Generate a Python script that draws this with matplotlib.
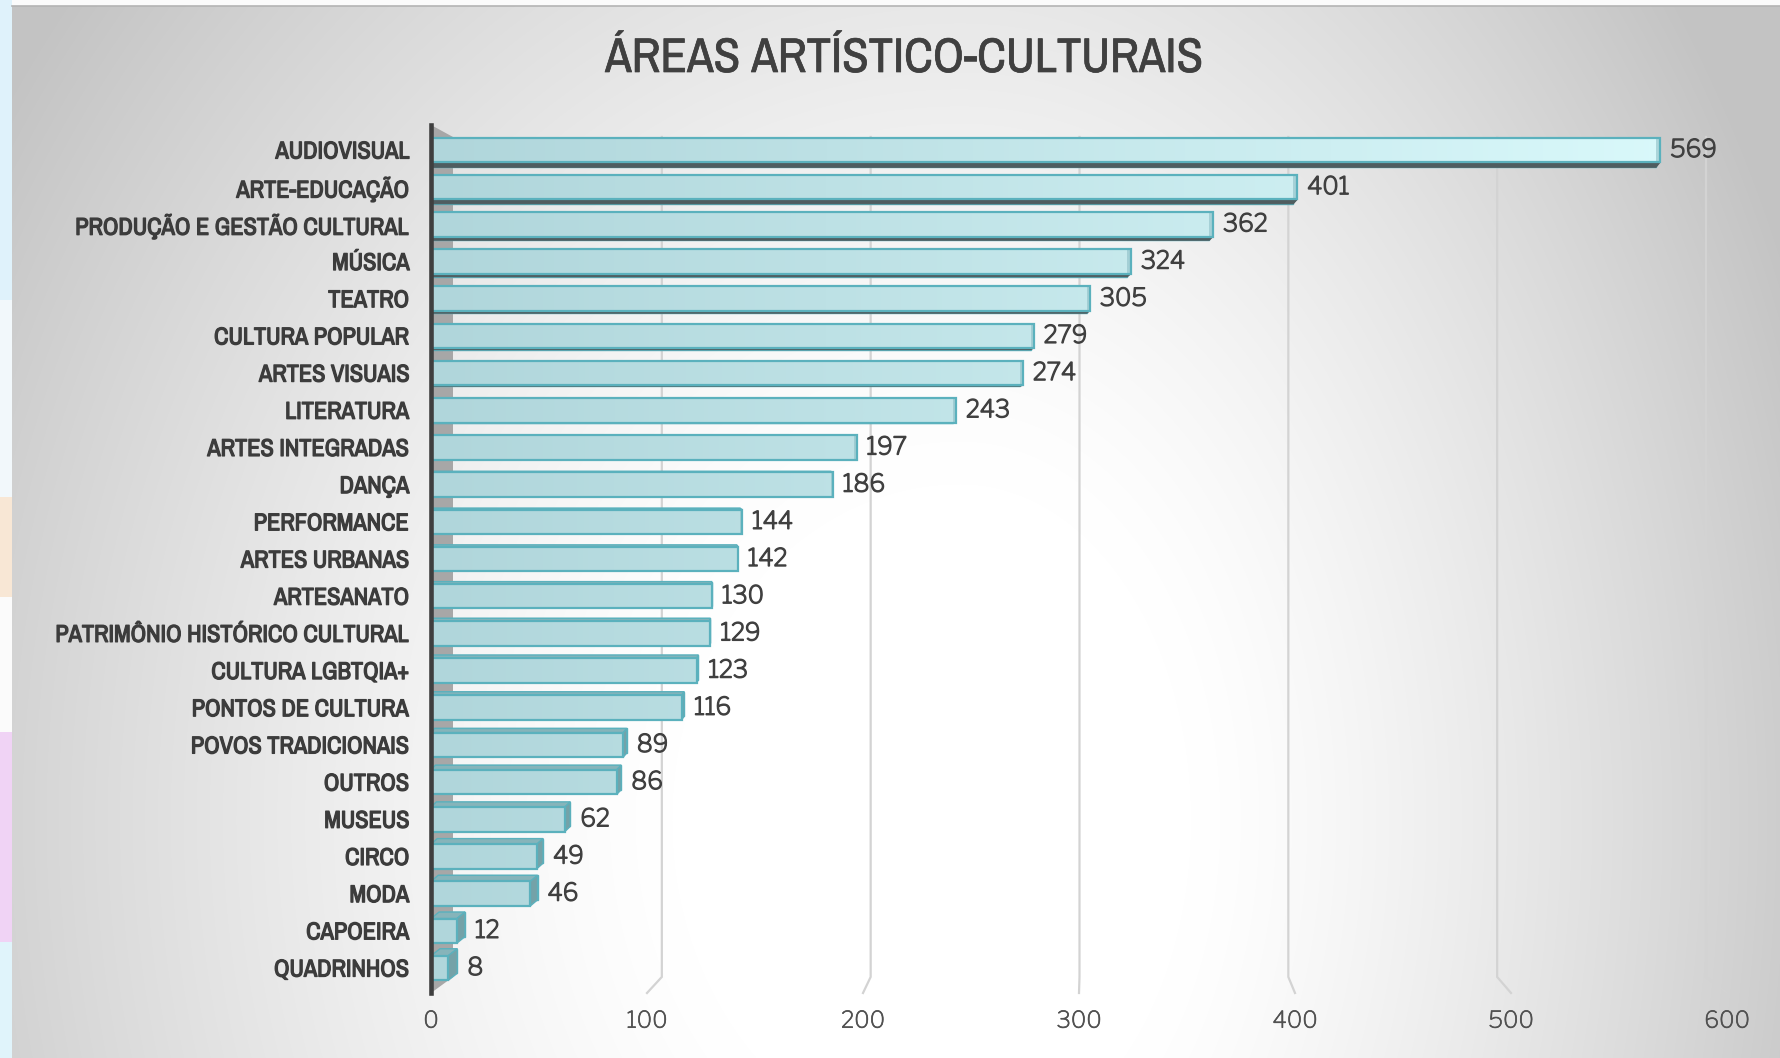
import matplotlib
matplotlib.use('Agg')
import matplotlib.pyplot as plt
import matplotlib.patheffects as pe
import numpy as np
from matplotlib import font_manager
from matplotlib.colors import LinearSegmentedColormap
from matplotlib.patches import Polygon, Rectangle

categories = ['AUDIOVISUAL', 'ARTE-EDUCAÇÃO', 'PRODUÇÃO E GESTÃO CULTURAL', 'MÚSICA', 'TEATRO',
              'CULTURA POPULAR', 'ARTES VISUAIS', 'LITERATURA', 'ARTES INTEGRADAS', 'DANÇA',
              'PERFORMANCE', 'ARTES URBANAS', 'ARTESANATO', 'PATRIMÔNIO HISTÓRICO CULTURAL',
              'CULTURA LGBTQIA+', 'PONTOS DE CULTURA', 'POVOS TRADICIONAIS', 'OUTROS', 'MUSEUS',
              'CIRCO', 'MODA', 'CAPOEIRA', 'QUADRINHOS']
values = [569, 401, 362, 324, 305, 279, 274, 243, 197, 186, 144, 142, 130, 129, 123, 116,
          89, 86, 62, 49, 46, 12, 8]
x_ticks = [0, 100, 200, 300, 400, 500, 600]
title = 'ÁREAS ARTÍSTICO-CULTURAIS'

installed = {f.name for f in font_manager.fontManager.ttflist}


def pick(*fams):
    found = [f for f in fams if f in installed]
    return found[:1] + ['DejaVu Sans']


narrow = pick('Archivo Narrow', 'Roboto Condensed', 'Fira Sans Condensed', 'Liberation Sans')
numfont = pick('Libre Franklin', 'Liberation Sans')


def heavy(w, c):
    # thicken strokes a little, the installed narrow face has only one weight
    return [pe.withStroke(linewidth=w, foreground=c)]


W, H = 1781, 1058
fig = plt.figure(figsize=(W / 100, H / 100), dpi=100)
fig.patch.set_facecolor('#fbfbfb')

# pale decoration strips in the left margin
for y0, y1, c in [(0, 300, '#dff2fb'), (300, 497, '#f2f8fb'), (497, 597, '#f8e7d5'),
                  (597, 732, '#fbfbfb'), (732, 942, '#f0d3f5'), (942, 1058, '#e0f4fb')]:
    fig.add_artist(Rectangle((0, 1 - y1 / H), 12 / W, (y1 - y0) / H, transform=fig.transFigure,
                             color=c, lw=0, zorder=0))

# radial grey gradient panel
bg = fig.add_axes([12 / W, 0, 1 - 12 / W, 1 - 6 / H])
yy, xx = np.mgrid[6:H, 12:W].astype(float)
cx, cy = 960.0, 820.0
rx = np.where(xx > cx, 720.0, 900.0)
d = np.sqrt(((xx - cx) / rx) ** 2 + ((yy - cy) / 1050.0) ** 2)
f = np.clip((d - 0.32) / 0.95, 0, 1) ** 1.3
g = (255 - 60 * f) / 255.0
bg.imshow(np.dstack([g, g, g]), extent=(0, 1, 0, 1), aspect='auto', interpolation='bilinear')
bg.set_axis_off()
fig.add_artist(plt.Line2D([12 / W, 1], [1 - 6 / H, 1 - 6 / H], color='#b4b4b4', lw=1.2,
                          transform=fig.transFigure))

# main axes
ax_l, ax_r, ax_t, ax_b = 431, 1727, 125, 993
ax = fig.add_axes([ax_l / W, 1 - ax_b / H, (ax_r - ax_l) / W, (ax_b - ax_t) / H])
ax.set_facecolor('none')
n = len(categories)
y_top, y_bot = -0.672, n - 1 + 0.672
px_x = (ax_r - ax_l) / 600.0
px_y = (ax_b - ax_t) / (y_bot - y_top)

# side wall and back gridlines with a small perspective floor
wall_x = 22 / px_x
floor_y = n - 1 + 0.24
ax.add_patch(Polygon([(0, y_top), (wall_x, -0.35), (wall_x, floor_y), (0, y_bot)],
                     closed=True, facecolor='#a7a7a7', edgecolor='none', zorder=1.5))
back_scale = (1705 - 452) / (ax_r - ax_l)
for t in x_ticks[1:]:
    xb = wall_x + t * back_scale
    ax.plot([xb, xb, t], [-0.35, floor_y, y_bot], color='#d3d3d3', lw=1.6, zorder=1,
            clip_on=False, solid_joinstyle='miter')

cmap = LinearSegmentedColormap.from_list('bar', ['#b0d6db', '#dbfafc'])
edge = '#5bb1bd'
h = 0.66
idx = np.arange(n)
shift_x = np.interp(idx, [0, 10, 22], [-4, -2, 9])   # px, depth shift of the back face
shift_y = np.interp(idx, [0, 7, 22], [5, 0, -7])     # px, positive = downwards

for i, v in enumerate(values):
    y0, y1 = i - h / 2, i + h / 2
    dx, dy = shift_x[i] / px_x, shift_y[i] / px_y
    ax.add_patch(Rectangle((dx, y0 + dy), v, h, facecolor='#7fa8ae', edgecolor=edge,
                           lw=1, zorder=3))
    if dy > 0:
        ax.add_patch(Polygon([(0, y1), (v, y1), (v + dx, y1 + dy), (dx, y1 + dy)],
                             facecolor='#4f5d60', edgecolor='#4f5d60', lw=0.8, zorder=3.1))
    elif dy < 0:
        ax.add_patch(Polygon([(0, y0), (v, y0), (v + dx, y0 + dy), (dx, y0 + dy)],
                             facecolor='#86b4ba', edgecolor=edge, lw=1, zorder=3.1))
    if dx > 0:
        ax.add_patch(Polygon([(v, y0), (v, y1), (v + dx, y1 + dy), (v + dx, y0 + dy)],
                             facecolor='#74a2a8', edgecolor=edge, lw=1, zorder=3.2))
    grad = np.linspace(0, v / 600.0, 200)[None, :]
    ax.imshow(grad, extent=(0, v, y1, y0), cmap=cmap, vmin=0, vmax=1, aspect='auto',
              interpolation='bilinear', zorder=3.3)
    if dx < 0:
        ax.add_patch(Rectangle((v + dx, y0), -dx, h, facecolor='#8dbfc6', edgecolor='none',
                               alpha=0.6, zorder=3.4))
    ax.add_patch(Rectangle((0, y0), v, h, fill=False, edgecolor=edge, lw=1.6, zorder=3.5))
    ax.annotate(str(v), xy=(v, i), xytext=((10 + max(shift_x[i], 0)) * 0.72, 0),
                textcoords='offset points', ha='left', va='center', fontsize=17.5,
                family=numfont, color='#404040', zorder=4,
                path_effects=heavy(1.0, '#404040'))

ax.set_xlim(0, 600)
ax.set_ylim(y_bot, y_top)
ax.set_xticks(x_ticks)
ax.set_xticklabels([str(t) for t in x_ticks], fontsize=16.5, family=numfont, color='#505050')
for lab in ax.get_xticklabels():
    lab.set_path_effects(heavy(0.5, '#505050'))
ax.set_yticks(idx)
ax.set_yticklabels(categories, family=narrow, fontweight='bold', fontsize=17.5, color='#3c3c3c')
for lab in ax.get_yticklabels():
    lab.set_path_effects(heavy(0.9, '#3c3c3c'))
ax.tick_params(axis='x', length=0, pad=12)
ax.tick_params(axis='y', length=0, pad=15.5)
for s in ['top', 'right', 'bottom']:
    ax.spines[s].set_visible(False)
ax.spines['left'].set_color('#3f3f3f')
ax.spines['left'].set_linewidth(3.3)
ax.spines['left'].set_zorder(5)

fig.text(904 / W, 1 - 72 / H, title, ha='center', va='baseline', fontsize=35,
         family=narrow, fontweight='medium', color='#404040', path_effects=heavy(0.5, '#404040'))

fig.savefig('out.png', dpi=100)
